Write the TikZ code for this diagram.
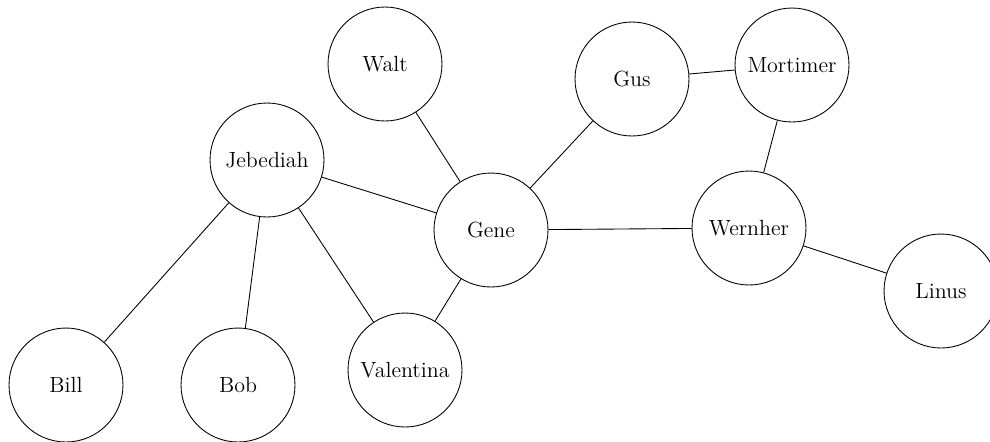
\documentclass[tikz,border=0pt]{standalone}
\usepackage{tikz}

\begin{document}
\begin{tikzpicture}[x=0.02cm,y=-0.02cm,
    person/.style={draw,circle,minimum size=2.28cm,inner sep=0pt,font=\fontsize{12.5}{15}\selectfont},
    line width=0.5pt]

\useasboundingbox (0,0) rectangle (990,441);

% people
\node[person] (walt) at (385,64) {Walt};
\node[person] (gus) at (632,79) {Gus};
\node[person] (mortimer) at (792,65) {Mortimer};
\node[person] (jebediah) at (267,160) {Jebediah};
\node[person] (gene) at (491,230) {Gene};
\node[person] (wernher) at (749,228) {Wernher};
\node[person] (linus) at (941,291) {Linus};
\node[person] (bill) at (66,385) {Bill};
\node[person] (bob) at (238,385) {Bob};
\node[person] (valentina) at (405,370) {Valentina};

% friendships
\draw (walt) -- (gene)
      (jebediah) -- (gene)
      (jebediah) -- (bill)
      (jebediah) -- (bob)
      (jebediah) -- (valentina)
      (gene) -- (valentina)
      (gene) -- (gus)
      (gus) -- (mortimer)
      (mortimer) -- (wernher)
      (gene) -- (wernher)
      (wernher) -- (linus);

\end{tikzpicture}
\end{document}
